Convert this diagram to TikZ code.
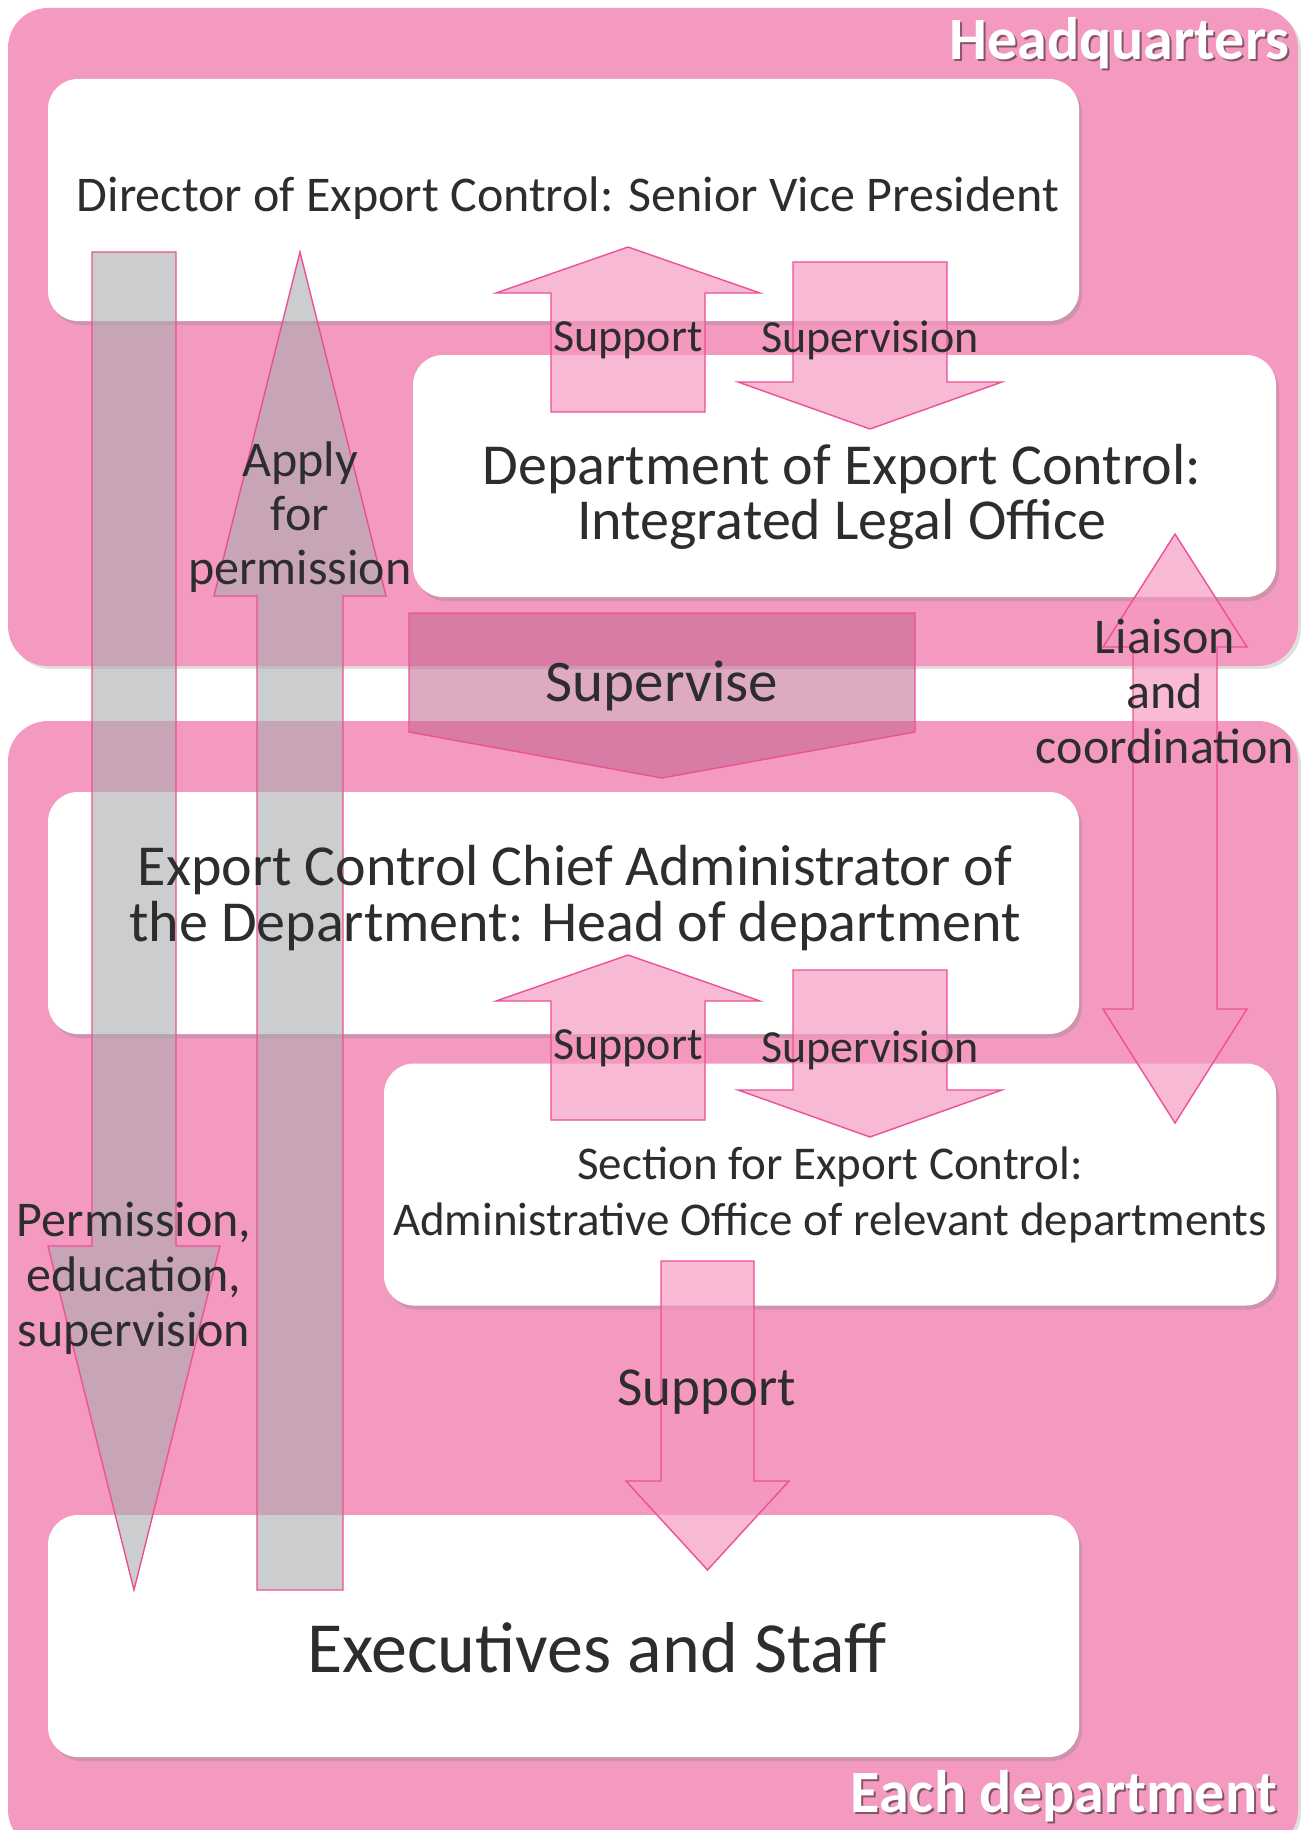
\documentclass[tikz,border=0pt]{standalone}
\usepackage{fontspec}
\setmainfont{Carlito}
\usetikzlibrary{shadows}
\definecolor{rosefond}{RGB}{244,154,193}
\definecolor{rosefleche}{RGB}{244,152,192}
\definecolor{rosetrait}{RGB}{236,80,150}
\definecolor{rosefonce}{RGB}{193,100,142}
\definecolor{grisfleche}{RGB}{170,172,175}
\definecolor{encre}{RGB}{45,45,45}

\begin{document}
\begin{tikzpicture}[x=0.5pt, y=-0.5pt]
	\tikzset{panneau/.style={fill=rosefond, rounded corners=20pt, drop shadow={opacity=0.25, shadow xshift=1.5pt, shadow yshift=-1.5pt}},
	boite/.style={fill=white, rounded corners=15pt, minimum height=121pt, inner sep=0pt, drop shadow={opacity=0.3, shadow xshift=1.5pt, shadow yshift=-2pt}},
	fleche/.style={draw=rosetrait, line width=0.7pt, fill=rosefleche, fill opacity=0.67},
	flechegrise/.style={draw=rosetrait, line width=0.7pt, fill=grisfleche, fill opacity=0.6},
	flechesup/.style={draw=rosetrait, line width=0.7pt, fill=rosefonce, fill opacity=0.55},
	etiq/.style={text=encre, align=center, inner sep=0pt},
	titre/.style={text=white, font=\bfseries\fontsize{30}{30}\selectfont, inner sep=0pt, anchor=base east}};

	\useasboundingbox (0,0) rectangle (1304,1830);

	% les deux zones
	\path[panneau] (8,8) rectangle (1298,666);
	\path[panneau] (8,721) rectangle (1298,1850);

	\foreach \name/\x/\y/\w in {dir/563.5/200/515.5, bureau/844.5/476/431.5, chef/563.5/913/515.5, section/830/1184.5/446, pers/563.5/1636/515.5}{
		\node[boite, minimum width=\w pt] (\name) at (\x,\y) {};
	}

	% fleches roses
	\foreach \x/\ya/\yb/\yc/\w/\h in {628/412/293/247/77/132, 870/262/382/429/77/132, 628/1120/1001/955/77/132, 870/970/1090/1137/77/132, 707.5/1261/1481/1570/46.5/81.5}{
		\draw[fleche] (\x-\w,\ya) -- (\x-\w,\yb) -- (\x-\h,\yb) -- (\x,\yc) -- (\x+\h,\yb) -- (\x+\w,\yb) -- (\x+\w,\ya) -- cycle;
	}
	\draw[fleche] (1133,647) -- (1103,647) -- (1175,534) -- (1247,647) -- (1217,647) -- (1217,1009) -- (1247,1009) -- (1175,1123) -- (1103,1009) -- (1133,1009) -- cycle;
	\draw[flechesup] (409,613) -- (409,732) -- (662,778) -- (915,732) -- (915,613) -- cycle;

	% fleches grises
	\foreach \x/\ya/\yb/\yc/\w/\h in {134/252/1246/1590/42/86, 300/1590/596/252/43/86}{
		\draw[flechegrise] (\x-\w,\ya) -- (\x-\w,\yb) -- (\x-\h,\yb) -- (\x,\yc) -- (\x+\h,\yb) -- (\x+\w,\yb) -- (\x+\w,\ya) -- cycle;
	}

	% textes des boites
	\node[etiq, font=\fontsize{25}{30}\selectfont] (t-dir) at (568,198) {Director of Export Control: Senior Vice President};
	\node[etiq, font=\fontsize{29}{27.5}\selectfont] (t-bureau) at (842,497) {Department of Export Control:\\Integrated Legal Office};
	\node[etiq, font=\fontsize{29}{28}\selectfont] (t-chef) at (575,898) {Export Control Chief Administrator of\\the Department: Head of department};
	\node[etiq, font=\fontsize{23.5}{28}\selectfont] (t-section) at (830,1195) {Section for Export Control:\\Administrative Office of relevant departments};
	\node[etiq, font=\fontsize{36}{36}\selectfont] (t-pers) at (597,1648) {Executives and Staff};

	% etiquettes des fleches
	\foreach \name/\x/\y/\txt in {sout-a/628/340/Support, sup-a/870/340/Supervision, sout-b/628/1048/Support, sup-b/870/1050/Supervision}{
		\node[etiq, font=\fontsize{23}{23}\selectfont] (\name) at (\x,\y) {\txt};
	}
	\node[etiq, font=\fontsize{25}{27}\selectfont] (demande) at (300,517) {Apply\\for\\permission};
	\node[etiq, font=\fontsize{25}{27.5}\selectfont] (permis) at (134,1278) {Permission,\\education,\\supervision};
	\node[etiq, font=\fontsize{25}{27.5}\selectfont] (liaison) at (1165,691) {Liaison\\and\\coordination};
	\node[etiq, font=\fontsize{29.5}{29.5}\selectfont] (superv) at (662,686) {Supervise};
	\node[etiq, font=\fontsize{27.5}{27.5}\selectfont] (sout-c) at (707,1392) {Support};

	% titres des zones
	\node[titre, text=black, opacity=0.45] (hq-ombre) at (1292,62) {Headquarters};
	\node[titre] (hq) at (1290,60) {Headquarters};
	\node[titre, text=black, opacity=0.45] (dep-ombre) at (1280,1814) {Each department};
	\node[titre] (dep) at (1278,1812) {Each department};
\end{tikzpicture}
\end{document}
